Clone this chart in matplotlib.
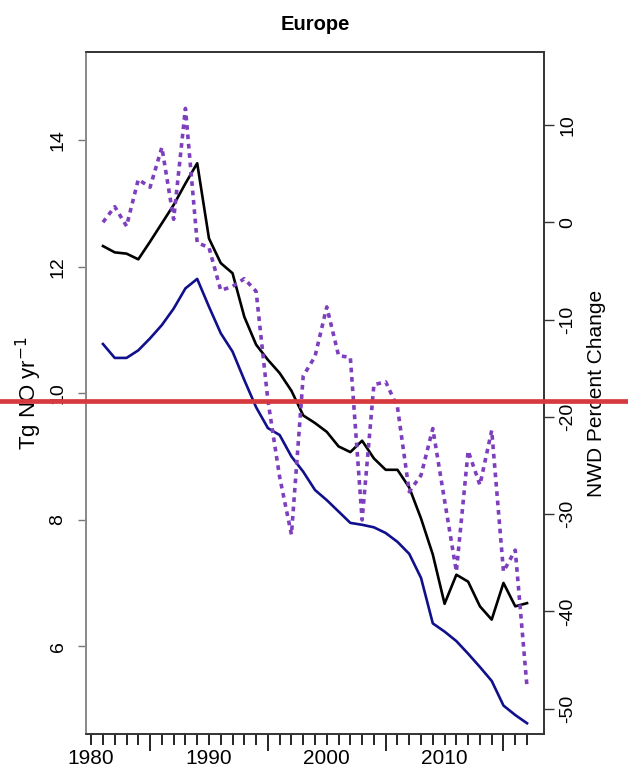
import matplotlib
matplotlib.use("Agg")
import matplotlib.pyplot as plt
from matplotlib.ticker import FixedLocator, FuncFormatter
from matplotlib.lines import Line2D

plt.rcParams['font.family'] = ['Liberation Sans', 'DejaVu Sans']

# --- Data ---
years = list(range(1981, 2018))
total_no = [12.33, 12.23, 12.21, 12.12, 12.40, 12.69, 12.98, 13.32, 13.64,
            12.45, 12.06, 11.90, 11.21, 10.77, 10.53, 10.32, 10.04, 9.65, 9.53,
            9.39, 9.16, 9.07, 9.25, 8.97, 8.79, 8.79, 8.51, 8.02, 7.45,
            6.67, 7.13, 7.02, 6.63, 6.42, 7.00, 6.63, 6.68]
anthro_no = [10.78, 10.56, 10.56, 10.68, 10.87, 11.08, 11.34, 11.66, 11.81,
             11.37, 10.95, 10.66, 10.21, 9.78, 9.45, 9.34, 9.00, 8.76, 8.47,
             8.31, 8.13, 7.95, 7.92, 7.88, 7.79, 7.65, 7.46, 7.08, 6.36,
             6.23, 6.08, 5.88, 5.67, 5.45, 5.06, 4.91, 4.78]
nwd_pct = [0.0, 1.6, -0.4, 4.4, 3.6, 7.7, 0.3, 11.7, -2.1,
           -2.6, -7.0, -6.6, -5.8, -7.1, -18.3, -26.2, -32.1, -15.8, -13.8,
           -8.7, -13.7, -13.9, -30.6, -16.7, -16.4, -19.0, -27.7, -26.0, -21.2,
           -28.6, -35.9, -23.5, -27.0, -21.4, -35.9, -33.7, -47.8]

left_ticks = [6, 8, 10, 12, 14]
right_ticks = [-50, -40, -30, -20, -10, 0, 10]
label_years = [1980, 1990, 2000, 2010]

# --- Figure ---
fig = plt.figure(figsize=(6.28, 7.72), dpi=100)
ax = fig.add_axes([86 / 628, 1 - 734 / 772, (544 - 86) / 628, (734 - 52) / 772])
ax2 = ax.twinx()

ax.plot(years, total_no, color='black', lw=1.9, zorder=3)
ax.plot(years, anthro_no, color='#10108c', lw=1.9, zorder=3)
ax2.plot(years, nwd_pct, color='#7e3fbf', lw=2.6, linestyle=(0, (1.3, 1.3)))

ax.set_xlim(1979.56, 2018.44)
ax.set_ylim(4.61, 15.4)
ax2.set_ylim(-52.6, 17.5)

# x axis: yearly minor ticks, longer ticks at mid-decades, labels at decades
ax.xaxis.set_major_locator(FixedLocator([1985, 1995, 2005, 2015]))
ax.xaxis.set_major_formatter(FuncFormatter(lambda v, p: ""))
ax.xaxis.set_minor_locator(FixedLocator(list(range(1980, 2018))))
ax.xaxis.set_minor_formatter(
    FuncFormatter(lambda v, p: f"{int(round(v))}" if int(round(v)) in label_years else ""))
ax.tick_params(axis='x', which='major', length=12, width=1.2, color='black')
ax.tick_params(axis='x', which='minor', length=8, width=1.2, color='black',
               labelsize=15, pad=3)

ax.set_yticks(left_ticks)
ax.set_yticklabels([str(t) for t in left_ticks], rotation=90, va='center')
ax.tick_params(axis='y', length=6, width=1.0, color='#777777', labelsize=14, pad=8)

ax2.set_yticks(right_ticks)
ax2.set_yticklabels([str(t) for t in right_ticks], rotation=90, va='center')
ax2.tick_params(axis='y', length=7, width=1.0, color='#333333', labelsize=14, pad=4)

for a in (ax, ax2):
    for s in a.spines.values():
        s.set_linewidth(1.2)
        s.set_color('#333333')
ax.spines['left'].set_color('#888888')
ax2.spines['left'].set_color('#888888')

ax.set_ylabel(r'Tg NO yr$^{-1}$', fontsize=16, labelpad=4)
ax2.set_ylabel('NWD Percent Change', fontsize=15, labelpad=8)
ax.set_title('Europe', fontsize=14.5, fontweight='bold', pad=16)

# red horizontal marker line across the whole figure
fig.add_artist(Line2D([0, 1], [1 - 401.5 / 772] * 2, transform=fig.transFigure,
                      color='#d63a3f', lw=3.4, zorder=10))

fig.savefig('out.png', dpi=100)
